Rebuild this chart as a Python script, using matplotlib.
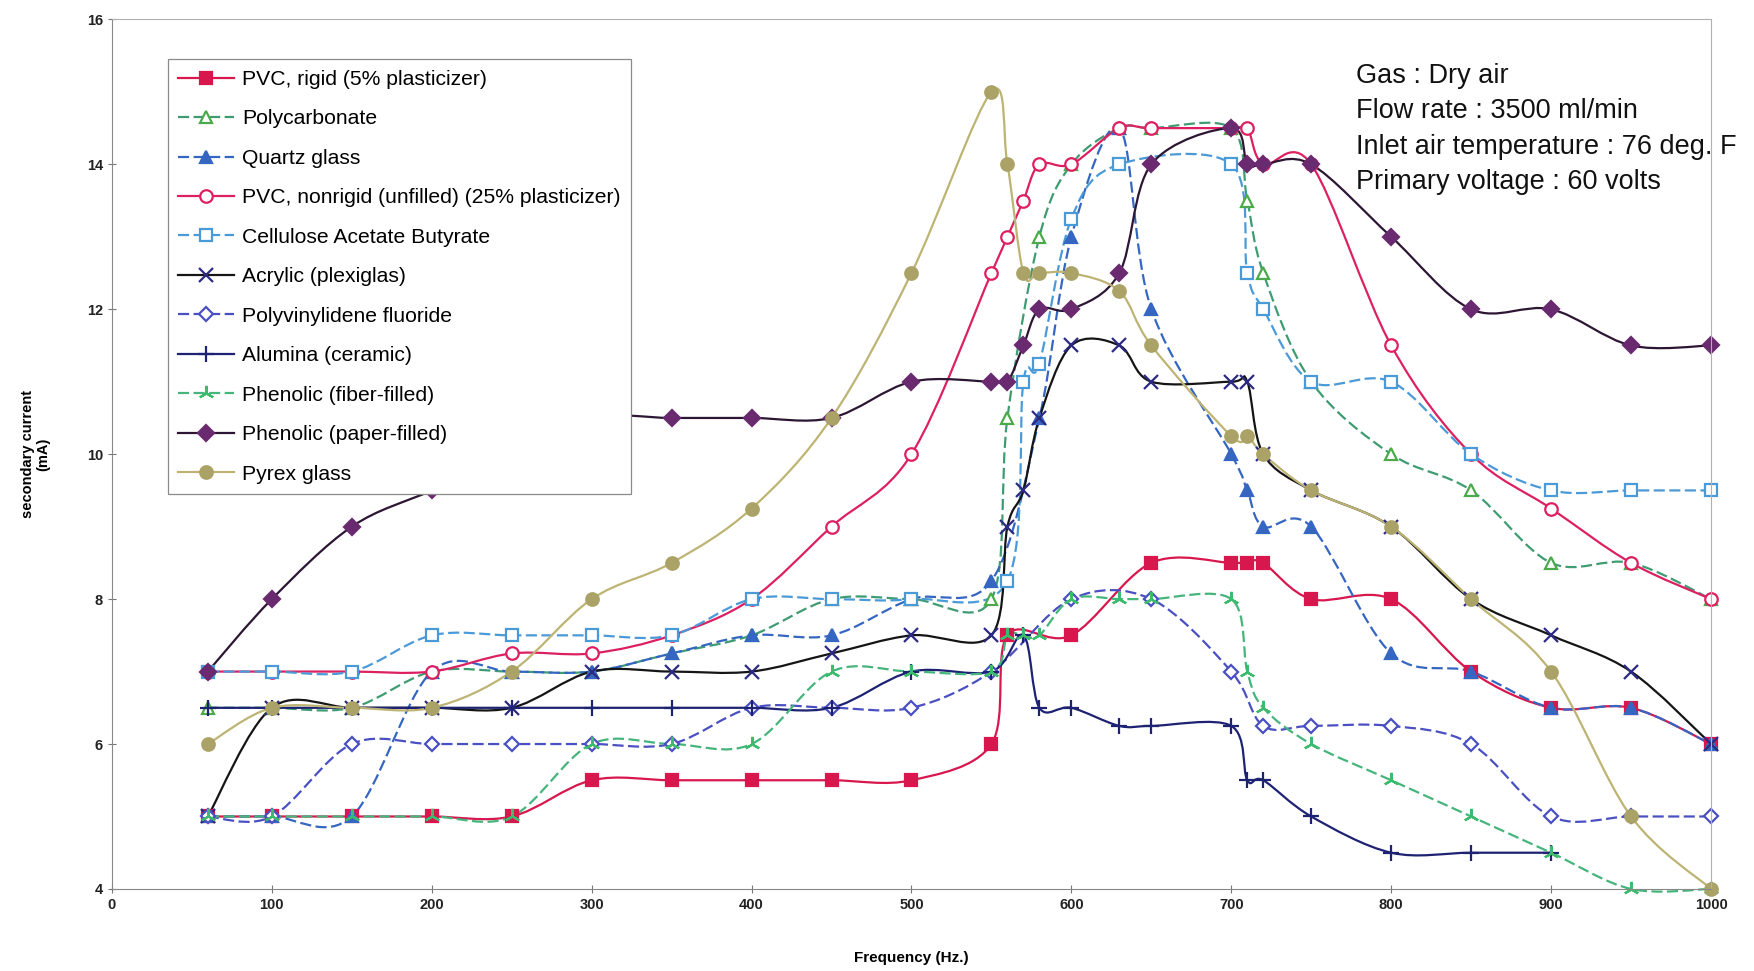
import numpy as np
import matplotlib
matplotlib.use('Agg')
import matplotlib.pyplot as plt
from matplotlib.path import Path
from matplotlib.patches import PathPatch
from matplotlib.lines import Line2D

plt.rcParams['font.family'] = ['Liberation Sans', 'DejaVu Sans']

# ---- data (frequency in Hz, current in mA) ----
pvc_rigid_x = [60, 100, 150, 200, 250, 300, 350, 400, 450, 500, 550, 560, 600, 650, 700, 710, 720, 750, 800, 850, 900, 950, 1000]
pvc_rigid_y = [5, 5, 5, 5, 5, 5.5, 5.5, 5.5, 5.5, 5.5, 6, 7.5, 7.5, 8.5, 8.5, 8.5, 8.5, 8, 8, 7, 6.5, 6.5, 6]

polycarb_x = [60, 100, 150, 200, 250, 300, 350, 400, 450, 500, 550, 560, 580, 600, 630, 650, 700, 710, 720, 750, 800, 850, 900, 950, 1000]
polycarb_y = [6.5, 6.5, 6.5, 7, 7, 7, 7.25, 7.5, 8, 8, 8, 10.5, 13, 14, 14.5, 14.5, 14.5, 13.5, 12.5, 11, 10, 9.5, 8.5, 8.5, 8]

quartz_x = [60, 100, 150, 200, 250, 300, 350, 400, 450, 500, 550, 580, 600, 630, 650, 700, 710, 720, 750, 800, 850, 900, 950, 1000]
quartz_y = [5, 5, 5, 7, 7, 7, 7.25, 7.5, 7.5, 8, 8.25, 10.5, 13, 14.5, 12, 10, 9.5, 9, 9, 7.25, 7, 6.5, 6.5, 6]

pvc_soft_x = [60, 100, 150, 200, 250, 300, 350, 400, 450, 500, 550, 560, 570, 580, 600, 630, 650, 700, 710, 720, 750, 800, 850, 900, 950, 1000]
pvc_soft_y = [7, 7, 7, 7, 7.25, 7.25, 7.5, 8, 9, 10, 12.5, 13, 13.5, 14, 14, 14.5, 14.5, 14.5, 14.5, 14, 14, 11.5, 10, 9.25, 8.5, 8]

cab_x = [60, 100, 150, 200, 250, 300, 350, 400, 450, 500, 560, 570, 580, 600, 630, 700, 710, 720, 750, 800, 850, 900, 950, 1000]
cab_y = [7, 7, 7, 7.5, 7.5, 7.5, 7.5, 8, 8, 8, 8.25, 11, 11.25, 13.25, 14, 14, 12.5, 12, 11, 11, 10, 9.5, 9.5, 9.5]

acrylic_x = [60, 100, 150, 200, 250, 300, 350, 400, 450, 500, 550, 560, 570, 580, 600, 630, 650, 700, 710, 720, 750, 800, 850, 900, 950, 1000]
acrylic_y = [5, 6.5, 6.5, 6.5, 6.5, 7, 7, 7, 7.25, 7.5, 7.5, 9, 9.5, 10.5, 11.5, 11.5, 11, 11, 11, 10, 9.5, 9, 8, 7.5, 7, 6]

pvdf_x = [60, 100, 150, 200, 250, 300, 350, 400, 450, 500, 550, 600, 650, 700, 720, 750, 800, 850, 900, 950, 1000]
pvdf_y = [5, 5, 6, 6, 6, 6, 6, 6.5, 6.5, 6.5, 7, 8, 8, 7, 6.25, 6.25, 6.25, 6, 5, 5, 5]

alumina_x = [60, 100, 150, 200, 250, 300, 350, 400, 450, 500, 550, 570, 580, 600, 630, 650, 700, 710, 720, 750, 800, 850, 900]
alumina_y = [6.5, 6.5, 6.5, 6.5, 6.5, 6.5, 6.5, 6.5, 6.5, 7, 7, 7.5, 6.5, 6.5, 6.25, 6.25, 6.25, 5.5, 5.5, 5, 4.5, 4.5, 4.5]

fiber_x = [60, 100, 150, 200, 250, 300, 350, 400, 450, 500, 550, 560, 570, 580, 600, 630, 650, 700, 710, 720, 750, 800, 850, 900, 950, 1000]
fiber_y = [5, 5, 5, 5, 5, 6, 6, 6, 7, 7, 7, 7.5, 7.5, 7.5, 8, 8, 8, 8, 7, 6.5, 6, 5.5, 5, 4.5, 4, 4]

paper_x = [60, 100, 150, 200, 250, 300, 350, 400, 450, 500, 550, 560, 570, 580, 600, 630, 650, 700, 710, 720, 750, 800, 850, 900, 950, 1000]
paper_y = [7, 8, 9, 9.5, 10, 10.5, 10.5, 10.5, 10.5, 11, 11, 11, 11.5, 12, 12, 12.5, 14, 14.5, 14, 14, 14, 13, 12, 12, 11.5, 11.5]

pyrex_x = [60, 100, 150, 200, 250, 300, 350, 400, 450, 500, 550, 560, 570, 580, 600, 630, 650, 700, 710, 720, 750, 800, 850, 900, 950, 1000]
pyrex_y = [6, 6.5, 6.5, 6.5, 7, 8, 8.5, 9.25, 10.5, 12.5, 15, 14, 12.5, 12.5, 12.5, 12.25, 11.5, 10.25, 10.25, 10, 9.5, 9, 8, 7, 5, 4]

labels = ['PVC, rigid (5% plasticizer)', 'Polycarbonate', 'Quartz glass',
          'PVC, nonrigid (unfilled) (25% plasticizer)', 'Cellulose Acetate Butyrate',
          'Acrylic (plexiglas)', 'Polyvinylidene fluoride', 'Alumina (ceramic)',
          'Phenolic (fiber-filled)', 'Phenolic (paper-filled)', 'Pyrex glass']

notes = ['Gas : Dry air', 'Flow rate : 3500 ml/min',
         'Inlet air temperature : 76 deg. F', 'Primary voltage : 60 volts']

dash = (0, (5, 2))
# (x, y, line colour, linestyle, marker, marker face, marker edge, marker size)
series = [
    (pvc_rigid_x, pvc_rigid_y, '#d8174f', '-', 's', '#d8174f', '#d8174f', 8.5),
    (polycarb_x, polycarb_y, '#3f9c72', dash, '^', 'white', '#4caa4a', 9),
    (quartz_x, quartz_y, '#3566c2', dash, '^', '#3566c2', '#3566c2', 8.5),
    (pvc_soft_x, pvc_soft_y, '#dc2062', '-', 'o', 'white', '#dc2062', 9),
    (cab_x, cab_y, '#4b9ad8', dash, 's', 'white', '#4b9ad8', 9),
    (acrylic_x, acrylic_y, '#151515', '-', 'x', 'none', '#2d2a82', 10),
    (pvdf_x, pvdf_y, '#4a50c2', dash, 'D', 'white', '#4a50c2', 7.5),
    (alumina_x, alumina_y, '#1d2272', '-', '+', 'none', '#1d2272', 11),
    (fiber_x, fiber_y, '#45b57c', dash, (3, 2, 0), 'none', '#3dbb6c', 11),
    (paper_x, paper_y, '#2c1634', '-', 'D', '#6a2a70', '#6a2a70', 8),
    (pyrex_x, pyrex_y, '#bdb474', '-', 'o', '#aaa266', '#aaa266', 9),
]


def smooth_path(x, y):
    # Excel style smoothed line: bezier segments with 1/6 neighbour tangents
    p = np.column_stack([x, y]).astype(float)
    n = len(p)
    verts = [p[0]]
    codes = [Path.MOVETO]
    for i in range(n - 1):
        p0 = p[i - 1] if i > 0 else p[i]
        p3 = p[i + 2] if i + 2 < n else p[i + 1]
        verts += [p[i] + (p[i + 1] - p0) / 6, p[i + 1] - (p3 - p[i]) / 6, p[i + 1]]
        codes += [Path.CURVE4] * 3
    return Path(verts, codes)


fig = plt.figure(figsize=(17.54, 9.71), dpi=100)
ax = fig.add_axes([0.0638, 0.0845, 0.9117, 0.8955])

handles = []
for (x, y, lc, ls, mk, mf, me, ms), lab in zip(series, labels):
    ax.add_patch(PathPatch(smooth_path(x, y), fill=False, edgecolor=lc,
                           linestyle=ls, lw=1.6, clip_on=False))
    ax.plot(x, y, ls='none', marker=mk, ms=ms, mfc=mf, mec=me, mew=1.6,
            clip_on=False)
    handles.append(Line2D([], [], color=lc, ls=ls, lw=1.6, marker=mk, ms=ms,
                          mfc=mf, mec=me, mew=1.6))

ax.set_xlim(0, 1000)
ax.set_ylim(4, 16)
ax.set_xticks(range(0, 1001, 100))
ax.set_yticks(range(4, 17, 2))
ax.tick_params(direction='inout', length=6, width=0.8, colors='#777777',
               labelcolor='#222222', labelsize=10.5)
for lab in ax.get_xticklabels() + ax.get_yticklabels():
    lab.set_fontweight('bold')
for s in ['top', 'right']:
    ax.spines[s].set_color('#b0b0b0')
for s in ['left', 'bottom']:
    ax.spines[s].set_color('#888888')

ax.set_xlabel('Frequency (Hz.)', fontsize=11, fontweight='bold', labelpad=28)
ax.set_ylabel('secondary current\n(mA)', fontsize=10.5, fontweight='bold',
              labelpad=26, linespacing=1.1)

leg = ax.legend(handles, labels, loc='upper left', bbox_to_anchor=(0.035, 0.954),
                borderaxespad=0, fontsize=15.2, handlelength=2.65, handletextpad=0.35,
                labelspacing=0.97, borderpad=0.5, fancybox=False, framealpha=1,
                edgecolor='#8a8a8a')
leg.get_frame().set_linewidth(0.9)

fig.text(0.773, 0.935, '\n'.join(notes), fontsize=19.5, va='top', ha='left',
         linespacing=1.46, color='#111111')

fig.savefig('out.png', dpi=100)
